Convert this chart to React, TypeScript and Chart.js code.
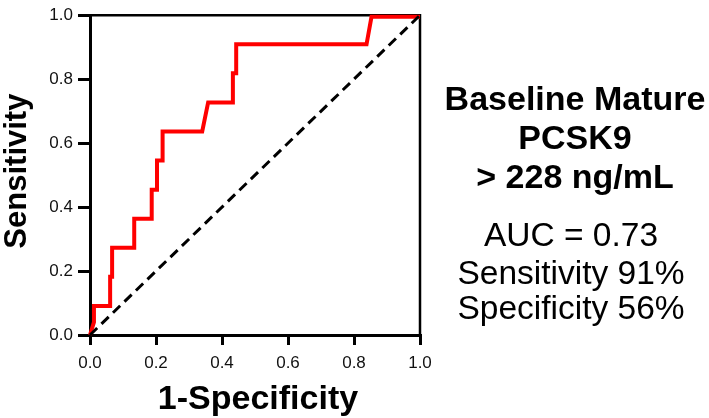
import React, { useEffect, useRef } from "react";
import { Chart, registerables } from "chart.js";

Chart.register(...registerables);

// ROC curve (1-Specificity, Sensitivity)
const rocX = [0, 0.012, 0.012, 0.061, 0.061, 0.067, 0.067, 0.134, 0.134, 0.187, 0.187, 0.203, 0.203, 0.22, 0.22, 0.34, 0.358, 0.433, 0.433, 0.443, 0.443, 0.838, 0.853, 1.0];
const rocY = [0, 0.04, 0.0909, 0.0909, 0.1818, 0.1818, 0.2727, 0.2727, 0.3636, 0.3636, 0.4545, 0.4545, 0.5455, 0.5455, 0.6364, 0.6364, 0.7273, 0.7273, 0.8182, 0.8182, 0.9091, 0.9091, 0.995, 0.995];
// Reference (chance) line
const refX = [0, 1];
const refY = [0, 1];
const tickValues = [0, 0.2, 0.4, 0.6, 0.8, 1.0];

const xTitle = "1-Specificity";
const yTitle = "Sensitivity";
const titleLines = ["Baseline Mature", "PCSK9", "> 228 ng/mL"];
const statLines = ["AUC = 0.73", "Sensitivity 91%", "Specificity 56%"];

const FONT = '"Liberation Sans", Arial, Helvetica, sans-serif';

export default function App() {
  const ref = useRef<HTMLCanvasElement | null>(null);

  useEffect(() => {
    const canvas = ref.current;
    if (!canvas) return;

    const framePlugin = {
      id: "framePlugin",
      beforeDatasetsDraw(chart: any) {
        const ctx = chart.ctx;
        const a = chart.chartArea;
        ctx.save();
        ctx.strokeStyle = "#000";
        ctx.lineWidth = 2.5;
        ctx.beginPath();
        ctx.moveTo(a.left - 1.5, a.top);
        ctx.lineTo(a.right, a.top);
        ctx.lineTo(a.right, a.bottom);
        ctx.stroke();
        ctx.restore();
      },
      afterDraw(chart: any) {
        const ctx = chart.ctx;
        const a = chart.chartArea;
        ctx.save();
        ctx.fillStyle = "#000";
        ctx.textAlign = "center";
        ctx.textBaseline = "alphabetic";
        // x title
        ctx.font = `bold 34px ${FONT}`;
        ctx.fillText(xTitle, (a.left + a.right) / 2 + 3, 409);
        // y title
        ctx.save();
        ctx.translate(26, (a.top + a.bottom) / 2 - 4);
        ctx.rotate(-Math.PI / 2);
        ctx.font = `bold 31px ${FONT}`;
        ctx.fillText(yTitle, 0, 0);
        ctx.restore();

        // right text block
        ctx.font = `bold 34px ${FONT}`;
        const tb = [110, 149, 188];
        titleLines.forEach((t, i) => ctx.fillText(t, 575, tb[i]));
        ctx.font = `33.5px ${FONT}`;
        const sb = [246, 284, 319];
        statLines.forEach((t, i) => ctx.fillText(t, 571, sb[i]));
        ctx.restore();
      },
    };

    const axisCommon = (isX: boolean) => ({
      type: "linear" as const,
      min: 0,
      max: 1,
      afterBuildTicks: (s: any) => {
        s.ticks = tickValues.map((v) => ({ value: v }));
      },
      afterFit: (s: any) => {
        if (isX) s.height = 83;
        else s.width = 90;
      },
      border: { display: true, color: "#000", width: 3 },
      grid: {
        display: true,
        drawOnChartArea: false,
        drawTicks: true,
        tickLength: isX ? 10 : 12,
        color: "#000",
        lineWidth: 3,
      },
      ticks: {
        color: "#111",
        font: { family: FONT, size: 17 },
        padding: isX ? 8 : 5,
        callback: (v: any) => Number(v).toFixed(1),
        maxRotation: 0,
      },
    });

    const chart = new Chart(canvas, {
      type: "line",
      data: {
        datasets: [
          {
            data: refX.map((x, i) => ({ x, y: refY[i] })),
            borderColor: "#000",
            borderWidth: 3,
            borderDash: [10, 6],
            pointRadius: 0,
            fill: false,
            tension: 0,
            order: 0,
            clip: 3,
          },
          {
            data: rocX.map((x, i) => ({ x, y: rocY[i] })),
            borderColor: "#ff0000",
            borderWidth: 4,
            pointRadius: 0,
            fill: false,
            tension: 0,
            order: 1,
            clip: 4,
            borderJoinStyle: "miter" as const,
          },
        ],
      },
      options: {
        animation: false,
        responsive: false,
        maintainAspectRatio: false,
        layout: { padding: { top: 5, right: 289, left: 0, bottom: 0 } },
        plugins: {
          legend: { display: false },
          tooltip: { enabled: false },
        },
        scales: {
          x: axisCommon(true),
          y: axisCommon(false),
        },
      },
      plugins: [framePlugin],
    });

    return () => chart.destroy();
  }, []);

  return (
    <div style={{ position: "fixed", left: 0, top: 0, width: 709, height: 418, background: "#fff" }}>
      <canvas ref={ref} width={709} height={418} style={{ width: 709, height: 418, display: "block" }} />
    </div>
  );
}
